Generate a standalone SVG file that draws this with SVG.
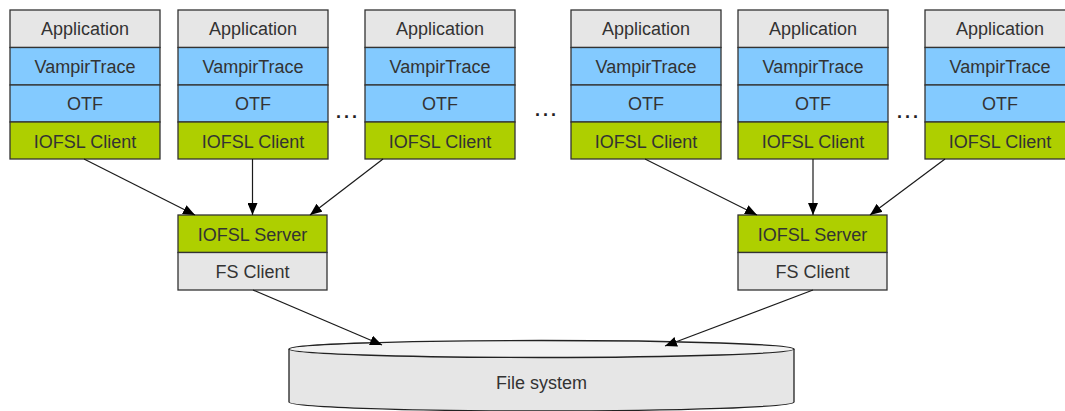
<svg xmlns="http://www.w3.org/2000/svg" width="1065" height="411" viewBox="0 0 1065 411">
<style>
.gray{fill:#e6e6e6;stroke:#333;stroke-width:1.3}
.blue{fill:#83caff;stroke:#333;stroke-width:1.3}
.green{fill:#aecf00;stroke:#333;stroke-width:1.3}
text{font-family:"Liberation Sans",Arial,sans-serif;font-size:18px;fill:#333;text-anchor:middle}
.dots{font-weight:bold;letter-spacing:3px;fill:#222}
.conn line{stroke:#1a1a1a;stroke-width:1.2;marker-end:url(#ah)}
</style>
<defs>
<marker id="ah" viewBox="0 0 12 10" refX="12" refY="5" markerWidth="12" markerHeight="10" markerUnits="userSpaceOnUse" orient="auto">
<path d="M0,0 L12,5 L0,10 z" fill="#000"/>
</marker>
<g id="stack">
<rect class="gray" x="0" y="0" width="150" height="37.5"/>
<rect class="blue" x="0" y="37.5" width="150" height="37.5"/>
<rect class="blue" x="0" y="75" width="150" height="37"/>
<rect class="green" x="0" y="112" width="150" height="37"/>
<text x="75" y="25">Application</text>
<text x="75" y="63">VampirTrace</text>
<text x="75" y="100">OTF</text>
<text x="75" y="137.5">IOFSL Client</text>
</g>
<g id="server">
<rect class="green" x="0" y="0" width="149" height="37.5"/>
<rect class="gray" x="0" y="37.5" width="149" height="37.5"/>
<text x="74.5" y="25.5">IOFSL Server</text>
<text x="74.5" y="63">FS Client</text>
</g>
</defs>
<g id="node-app1"><use href="#stack" x="10" y="10"/></g>
<g id="node-app2"><use href="#stack" x="178" y="10"/></g>
<g id="node-app3"><use href="#stack" x="365" y="10"/></g>
<g id="node-app4"><use href="#stack" x="571" y="10"/></g>
<g id="node-app5"><use href="#stack" x="738" y="10"/></g>
<g id="node-app6"><use href="#stack" x="925" y="10"/></g>
<g id="node-server1"><use href="#server" x="178" y="215"/></g>
<g id="node-server2"><use href="#server" x="738" y="215"/></g>
<g id="node-fs">
<path d="M289,349 L289,402 A252.5,9 0 0 0 794,402 L794,349" fill="#e6e6e6" stroke="#222" stroke-width="1.3"/>
<ellipse cx="541.5" cy="349" rx="252.5" ry="8.5" fill="#f2f2f2" stroke="#222" stroke-width="1.3"/>
<text x="541.5" y="389">File system</text>
</g>
<g id="dots">
<text class="dots" x="348" y="118">...</text>
<text class="dots" x="547" y="116">...</text>
<text class="dots" x="909" y="118">...</text>
</g>
<g class="conn" id="connectors">
<line x1="84" y1="159" x2="195" y2="215"/>
<line x1="252.5" y1="159" x2="252.5" y2="215"/>
<line x1="383" y1="159" x2="310" y2="215"/>
<line x1="645" y1="159" x2="757" y2="215"/>
<line x1="813" y1="159" x2="813" y2="215"/>
<line x1="945" y1="159" x2="870" y2="215"/>
<line x1="253" y1="290" x2="382" y2="345"/>
<line x1="813" y1="290" x2="665" y2="346"/>
</g>
</svg>
